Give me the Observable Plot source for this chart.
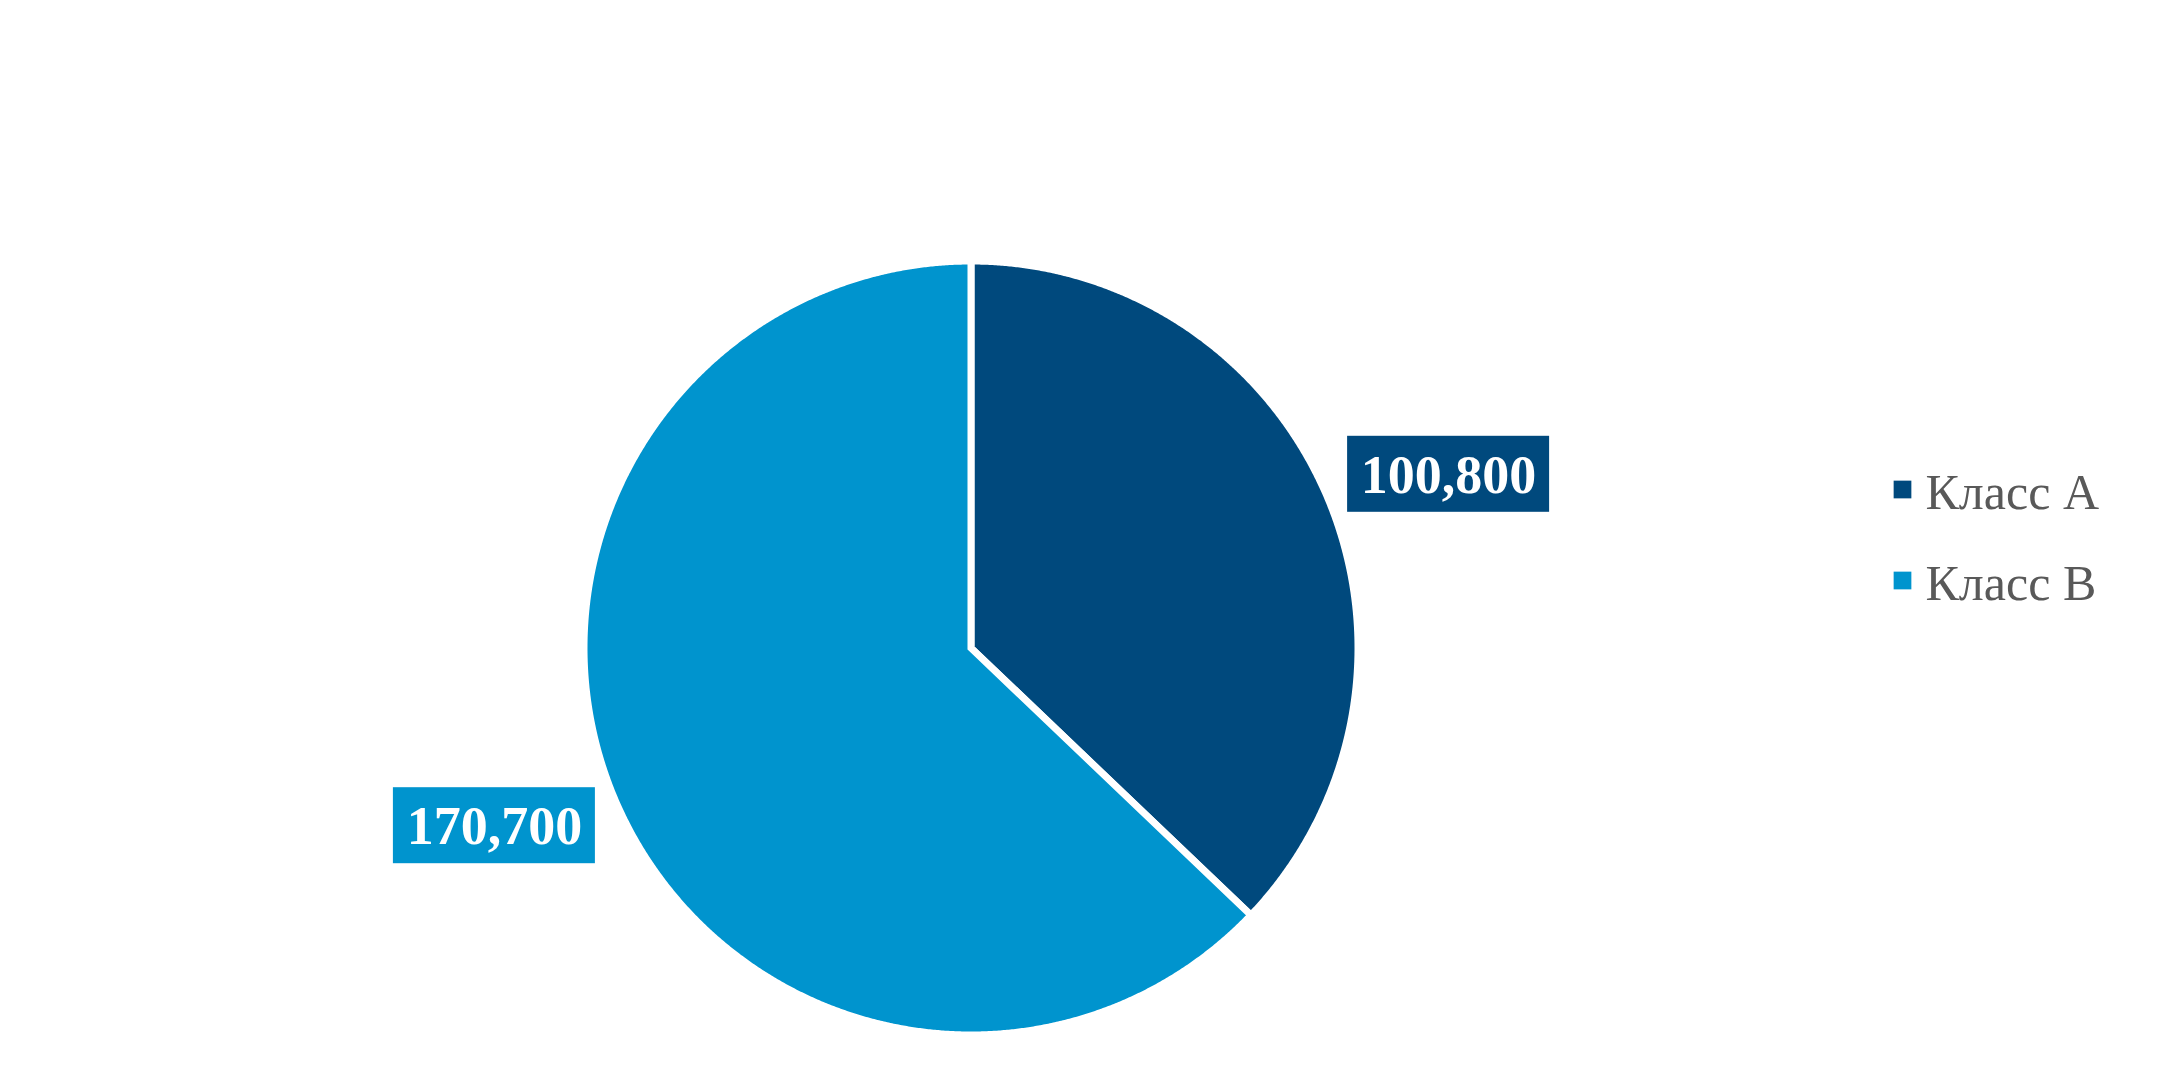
<!DOCTYPE html>
<html><head><meta charset="utf-8">
<script src="https://cdn.jsdelivr.net/npm/d3@7"></script>
<script src="https://cdn.jsdelivr.net/npm/@observablehq/plot@0.6"></script>
<style>body{margin:0;background:#fff;}</style>
</head><body><div id="chart"></div>
<script>
const categories = ["Класс А", "Класс В"];
const values = [100800, 170700];
const colors = ["#00497D", "#0094CE"];

const W = 2160, H = 1068;
const cx = 971, cy = 648, R = 387, Rvis = 383;
const data = categories.map((c, i) => ({category: c, value: values[i]}));
const arcs = d3.pie().sort(null).value(d => d.value)(data);

const labelW = 202, labelH = 76, labelGap = 24, labelLift = 25, labelDrop = 1.5;
const labels = arcs.map(a => {
  const m = (a.startAngle + a.endAngle) / 2;
  const s = Math.sin(m), c = Math.cos(m);
  const px = cx + Rvis * s, py = cy - Rvis * c;
  return {
    category: a.data.category,
    value: a.data.value,
    x: px + Math.sign(s) * (labelGap + labelW / 2),
    y: py - Math.sign(c) * labelLift + labelDrop
  };
});

const legendX = 1902, legendY0 = 489, legendStep = 91;
const legend = categories.map((c, i) => ({category: c, x: legendX, y: legendY0 + i * legendStep}));

// smooth slice outline (finely sampled arc)
function slicePath(a, r) {
  const n = Math.max(2, Math.ceil((a.endAngle - a.startAngle) / (Math.PI / 720)));
  const pts = d3.range(n + 1).map(k => {
    const t = a.startAngle + (a.endAngle - a.startAngle) * k / n;
    return [r * Math.sin(t), -r * Math.cos(t)];
  });
  return "M0,0L" + pts.map(p => p[0].toFixed(2) + "," + p[1].toFixed(2)).join("L") + "Z";
}

const pieMark = (index, scales) => {
  const g = d3.create("svg:g").attr("transform", `translate(${scales.x(cx)},${scales.y(cy)})`);
  g.selectAll("path").data(arcs).join("path")
    .attr("d", d => slicePath(d, R))
    .attr("fill", d => scales.color(d.data.category))
    .attr("stroke", "#fff")
    .attr("stroke-width", 7)
    .attr("stroke-linejoin", "miter");
  return g.node();
};

const plot = Plot.plot({
  width: W, height: H, margin: 0,
  x: {domain: [0, W], range: [0, W], axis: null},
  y: {domain: [0, H], range: [0, H], axis: null},
  color: {domain: categories, range: colors},
  style: {background: "#fff", fontFamily: "'Liberation Serif', 'Times New Roman', serif"},
  marks: [
    pieMark,
    Plot.rect(labels, {
      x1: d => d.x - labelW / 2, x2: d => d.x + labelW / 2,
      y1: d => d.y - labelH / 2, y2: d => d.y + labelH / 2,
      fill: "category"
    }),
    Plot.text(labels, {x: "x", y: "y", dy: 1, text: d => d3.format(",")(d.value), fill: "white", fontSize: 54, fontWeight: "bold", ariaLabel: "value-labels"}),
    Plot.dot(legend, {x: "x", y: "y", fill: "category", symbol: "square", r: 10}),
    Plot.text(legend, {x: d => d.x + 23, y: d => d.y + 3, text: "category", fill: "#595959", fontSize: 50, textAnchor: "start"})
  ]
});
// condense value labels horizontally like the reference's narrow bold serif
d3.select(plot).selectAll('g[aria-label="value-labels"] text')
  .attr("textLength", 163).attr("lengthAdjust", "spacingAndGlyphs");
document.getElementById("chart").appendChild(plot);
</script>
</body></html>
